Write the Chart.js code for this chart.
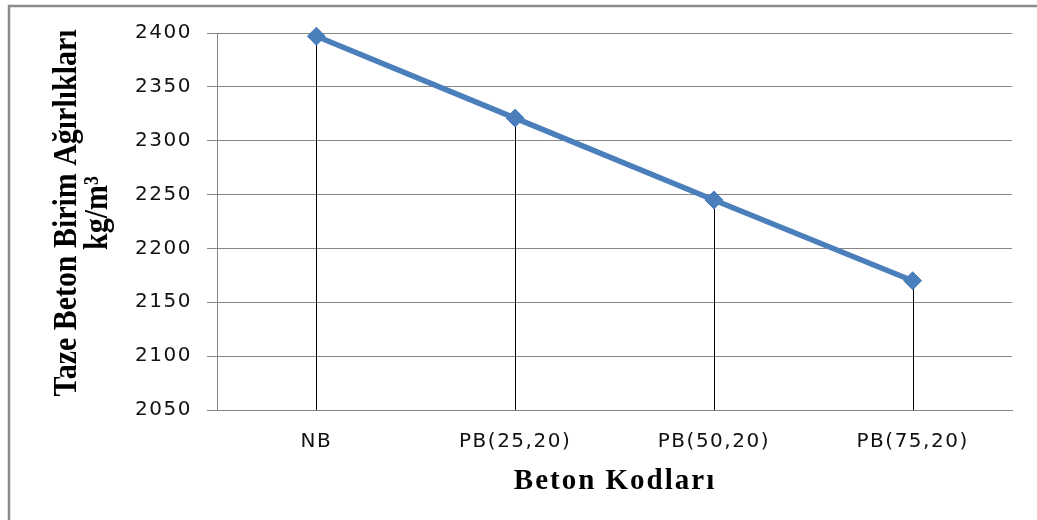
<!DOCTYPE html>
<html>
<head>
<meta charset="utf-8">
<script src="https://cdn.jsdelivr.net/npm/chart.js@4/dist/chart.umd.min.js"></script>
<style>
  html, body { margin: 0; padding: 0; background: #fff; }
  #wrap { width: 1037px; height: 520px; }
</style>
</head>
<body>
<div id="wrap"><canvas id="grafica"></canvas></div>
<script>
// veriler
const kodlar = ['NB', 'PB(25,20)', 'PB(50,20)', 'PB(75,20)'];
const agirliklar = [2397, 2321, 2245, 2170];
const yMin = 2050;
const yMax = 2400;
const yAdim = 50;

const yBaslik = ['Taze Beton Birim Ağırlıkları', 'kg/m³'];
const xBaslik = 'Beton Kodları';

// cerceve + eksen basliklari
const cercevePlugin = {
  id: 'cerceve',
  beforeDraw(chart) {
    const ctx = chart.ctx;
    ctx.save();
    ctx.fillStyle = '#fff';
    ctx.fillRect(0, 0, chart.width, chart.height);
    ctx.strokeStyle = '#8c8c8c';
    ctx.lineWidth = 2.5;
    ctx.strokeRect(9, 6, chart.width + 20, chart.height + 20);
    ctx.restore();
    // ticks biraz genis gorunuyor
    ctx.letterSpacing = '1.5px';
  },
  afterDraw(chart) {
    const ctx = chart.ctx;
    ctx.save();
    ctx.fillStyle = '#000';
    ctx.textAlign = 'center';
    ctx.textBaseline = 'alphabetic';

    // x basligi
    ctx.font = 'bold 29px "Liberation Serif", "Times New Roman", serif';
    ctx.letterSpacing = '2px';
    ctx.fillText(xBaslik, 615, 489);

    // y basligi (dondurulmus)
    ctx.letterSpacing = '0px';
    ctx.translate(0, 213);
    ctx.rotate(-Math.PI / 2);
    ctx.scale(0.88, 1);
    ctx.font = 'bold 34px "Liberation Serif", "Times New Roman", serif';
    ctx.fillText(yBaslik[0], 0, 76);
    ctx.fillText(yBaslik[1], 0, 107);
    ctx.restore();
  }
};

// noktalardan x eksenine inen siyah cizgiler
const dikCizgiPlugin = {
  id: 'dikCizgi',
  beforeDatasetsDraw(chart) {
    const ctx = chart.ctx;
    const meta = chart.getDatasetMeta(0);
    const alt = chart.scales.y.getPixelForValue(yMin);
    ctx.save();
    ctx.strokeStyle = '#000';
    ctx.lineWidth = 1;
    meta.data.forEach(p => {
      const x = Math.round(p.x) + 0.5;
      ctx.beginPath();
      ctx.moveTo(x, p.y);
      ctx.lineTo(x, alt);
      ctx.stroke();
    });
    ctx.restore();
  }
};

new Chart(document.getElementById('grafica'), {
  type: 'line',
  data: {
    labels: kodlar,
    datasets: [{
      label: 'Birim Ağırlık',
      data: agirliklar,
      borderColor: '#4b7fbc',
      backgroundColor: '#4b7fbc',
      borderWidth: 5.5,
      pointStyle: 'rectRot',
      pointRadius: 9,
      pointBorderWidth: 1,
      tension: 0,
      clip: false
    }]
  },
  options: {
    responsive: true,
    maintainAspectRatio: false,
    animation: false,
    layout: { padding: { left: 0, top: 33, right: 25, bottom: 0 } },
    plugins: {
      legend: { display: false },
      tooltip: { enabled: false }
    },
    scales: {
      x: {
        offset: true,
        grid: { display: false },
        border: { display: true, color: '#868686', width: 1 },
        ticks: {
          color: '#111',
          padding: 12,
          maxRotation: 0,
          font: { family: '"DejaVu Sans", Verdana, sans-serif', size: 20 }
        },
        afterFit: s => { s.height = 110; }
      },
      y: {
        min: yMin,
        max: yMax,
        grid: { color: '#868686', lineWidth: 1, tickLength: 10 },
        border: { display: true, color: '#868686', width: 1 },
        ticks: {
          stepSize: yAdim,
          color: '#111',
          padding: 15,
          callback: v => String(v),
          font: { family: '"DejaVu Sans", Verdana, sans-serif', size: 20 }
        },
        afterFit: s => { s.width = 217; }
      }
    }
  },
  plugins: [cercevePlugin, dikCizgiPlugin]
});
</script>
</body>
</html>
